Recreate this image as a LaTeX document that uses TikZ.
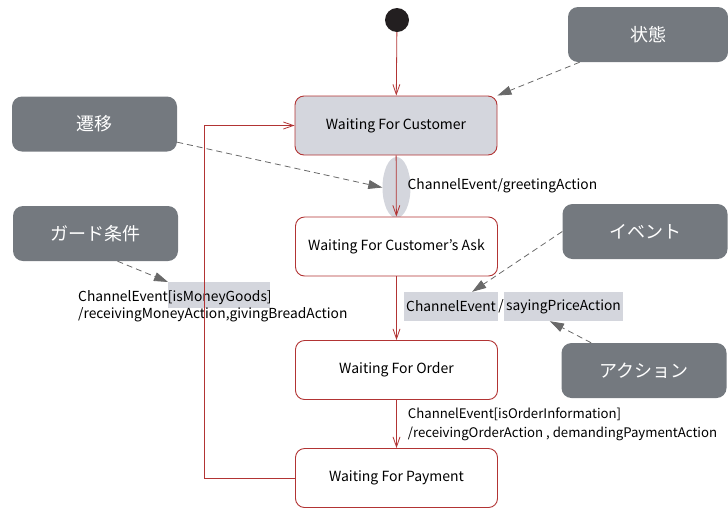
\documentclass[tikz,border=0pt]{standalone}
\usepackage{fontspec}
\setmainfont{Noto Sans CJK JP}
\usetikzlibrary{arrows.meta,positioning,shapes.geometric,calc}
\definecolor{statered}{RGB}{178,52,52}
\definecolor{statefill}{RGB}{212,214,221}
\definecolor{notegray}{RGB}{116,121,127}
\definecolor{noteline}{RGB}{105,105,105}
\definecolor{dotblack}{RGB}{35,31,32}

\begin{document}
\begin{tikzpicture}[x=1pt,y=-1pt,
   state/.style={draw=statered,line width=0.9pt,rounded corners=9pt,fill=white,
     minimum width=202pt,minimum height=59pt,font=\fontsize{14}{16}\selectfont},
   note/.style={fill=notegray,rounded corners=10pt,text=white,
     minimum width=165pt,minimum height=55pt,font=\fontsize{18}{20}\selectfont},
   hl/.style={fill=statefill,inner sep=2pt,minimum height=29pt,
     font=\fontsize{13.8}{16}\selectfont},
   lbl/.style={font=\fontsize{13.8}{19}\selectfont,align=left,inner sep=0pt},
   trans/.style={draw=statered,line width=0.8pt,
     -{Straight Barb[length=10pt,width=7pt]}},
   hint/.style={draw=noteline,line width=0.8pt,dash pattern=on 6pt off 4pt,
     -{Triangle[length=14pt,width=9pt]}}]
   \useasboundingbox (0,0) rectangle (728,507);
   % states
   \node[circle,fill=dotblack,minimum size=24pt,inner sep=0pt] (start) at (397,20) {};
   \node[state,fill=statefill] (wfc) at (396,125.5) {Waiting For Customer};
   \node[ellipse,fill=statefill,minimum width=28pt,minimum height=61pt,inner sep=0pt]
     (trig) at (396.5,187.5) {};
   \node[state] (wfca) at (396.5,246.5) {Waiting For Customer's Ask};
   \node[state] (wfo) at (396.5,370) {Waiting For Order};
   \node[state] (wfp) at (396.5,478) {Waiting For Payment};
   % notes
   \node[note,minimum width=160pt] (lstate) at (648,34.5) {状態};
   \node[note] (ltrans) at (94.5,124) {遷移};
   \node[note] (lguard) at (95.5,233.5) {ガード条件};
   \node[note] (levent) at (645,231.5) {イベント};
   \node[note] (laction) at (644,370.5) {アクション};
   % transition labels
   \node[hl,minimum width=102pt,minimum height=26pt,inner sep=0pt,anchor=north west]
     (hlguard) at (168,282) {};
   \node[lbl,font=\fontsize{13.8}{16.5}\selectfont,anchor=west] (glabel) at (78,306)
     {ChannelEvent[isMoneyGoods]\\/receivingMoneyAction,givingBreadAction};
   \node[hl,anchor=west] (hlevent) at (404,306.5) {ChannelEvent};
   \node[inner sep=0pt,font=\fontsize{13.8}{16}\selectfont,right=0pt of hlevent] (slash) {/};
   \node[hl,right=0pt of slash] (hlact) {sayingPriceAction};
   % transitions
   \draw[trans] (start) -- (wfc);
   \path[trans]
     (wfc)  edge node[lbl,right=11pt] {ChannelEvent/greetingAction} (wfca)
     (wfca) edge (wfo)
     (wfo)  edge node[lbl,font=\fontsize{13.2}{19}\selectfont,right=11pt]
       {ChannelEvent[isOrderInformation]\\/receivingOrderAction , demandingPaymentAction} (wfp);
   \draw[trans] (wfp.west) -- ++(-91,0) |- (wfc.west);
   % hints
   \draw[hint] (lstate) -- (wfc.north east);
   \draw[hint] (ltrans) -- (trig.west);
   \draw[hint] ($(lguard.south)+(22,0)$) -- (hlguard.north west);
   \draw[hint] (levent.west) -- ($(hlevent.north east)+(-26,0)$);
   \draw[hint] (laction) -- ($(hlact.south west)+(46,0)$);
\end{tikzpicture}
\end{document}
